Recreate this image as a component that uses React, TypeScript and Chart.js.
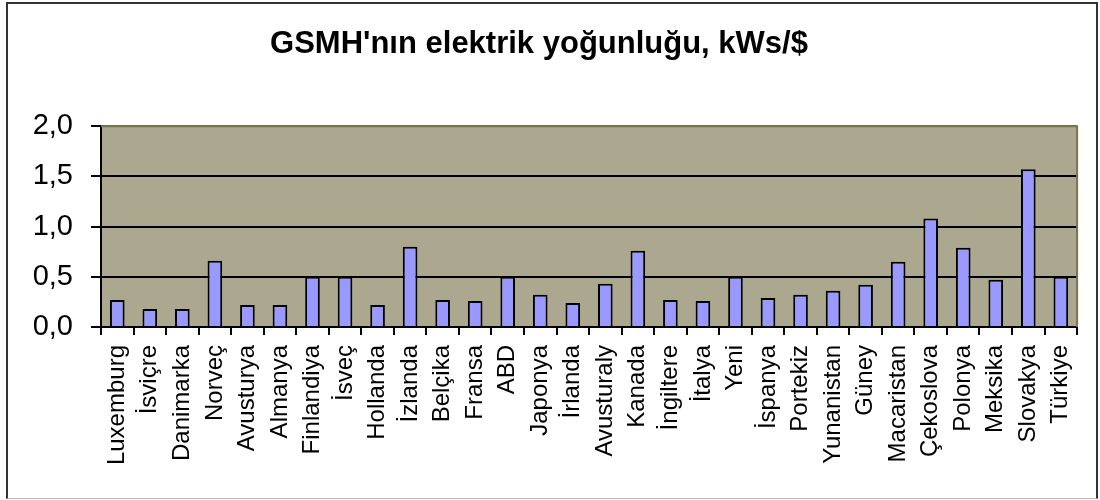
import React, { useEffect, useRef } from 'react';
import { Chart, registerables } from 'chart.js';

Chart.register(...registerables);

const chartTitle = "GSMH'nın elektrik yoğunluğu, kWs/$";

const countries = [
  'Luxemburg', 'İsviçre', 'Danimarka', 'Norveç', 'Avusturya', 'Almanya',
  'Finlandiya', 'İsveç', 'Hollanda', 'İzlanda', 'Belçika', 'Fransa', 'ABD',
  'Japonya', 'İrlanda', 'Avusturaly', 'Kanada', 'İngiltere', 'İtalya', 'Yeni',
  'İspanya', 'Portekiz', 'Yunanistan', 'Güney', 'Macaristan', 'Çekoslova',
  'Polonya', 'Meksika', 'Slovakya', 'Türkiye',
];

const intensity = [
  0.27, 0.18, 0.18, 0.66, 0.22, 0.22,
  0.5, 0.5, 0.22, 0.8, 0.27, 0.26, 0.5,
  0.32, 0.24, 0.43, 0.76, 0.27, 0.26, 0.5,
  0.29, 0.32, 0.36, 0.42, 0.65, 1.08,
  0.79, 0.47, 1.57, 0.5,
];

const yTickLabels = ['0,0', '0,5', '1,0', '1,5', '2,0'];

const FONT = '"Liberation Sans", Arial, sans-serif';
const PLOT_BG = 'rgb(171,168,143)';
const PLOT_EDGE = 'rgb(118,118,80)';

const plotBackground = {
  id: 'plotBackground',
  beforeDraw(chart: any) {
    const { ctx, chartArea } = chart;
    if (!chartArea) return;
    ctx.save();
    ctx.fillStyle = PLOT_BG;
    ctx.fillRect(chartArea.left, chartArea.top, chartArea.right - chartArea.left, chartArea.bottom - chartArea.top);
    ctx.restore();
  },
  beforeDatasetsDraw(chart: any) {
    const { ctx, chartArea } = chart;
    ctx.save();
    ctx.strokeStyle = PLOT_EDGE;
    ctx.lineWidth = 2;
    ctx.beginPath();
    ctx.moveTo(chartArea.left, chartArea.top);
    ctx.lineTo(chartArea.right, chartArea.top);
    ctx.lineTo(chartArea.right, chartArea.bottom);
    ctx.stroke();
    ctx.restore();
  },
};

export default function App() {
  const canvasRef = useRef<HTMLCanvasElement | null>(null);

  useEffect(() => {
    if (!canvasRef.current) return;
    const chart = new Chart(canvasRef.current, {
      type: 'bar',
      data: {
        labels: countries,
        datasets: [
          {
            data: intensity,
            backgroundColor: '#9999FF',
            borderColor: '#000000',
            borderWidth: 2,
            barPercentage: 0.45,
            categoryPercentage: 1,
          },
        ],
      },
      options: {
        responsive: false,
        maintainAspectRatio: false,
        animation: false,
        layout: { padding: { left: 0, right: 22, top: 0, bottom: 0 } },
        plugins: {
          legend: { display: false },
          tooltip: { enabled: false },
          title: {
            display: true,
            text: chartTitle,
            color: '#000',
            font: { family: FONT, size: 31, weight: 'bold', lineHeight: 1.2 },
            padding: { top: 26, bottom: 63 },
          },
        },
        scales: {
          x: {
            grid: {
              display: true,
              drawOnChartArea: false,
              drawTicks: true,
              tickLength: 8,
              color: '#000',
              lineWidth: 2,
              offset: true,
            },
            border: { display: true, color: '#000', width: 2 },
            ticks: {
              autoSkip: false,
              maxRotation: 90,
              minRotation: 90,
              color: '#000',
              padding: 10,
              font: { family: FONT, size: 24 },
            },
            afterFit(scale: any) {
              scale.height = 173;
            },
          },
          y: {
            min: 0,
            max: 2,
            ticks: {
              stepSize: 0.5,
              color: '#000',
              padding: 18,
              font: { family: FONT, size: 29 },
              callback: (_v: any, i: number) => yTickLabels[i],
            },
            grid: {
              color: (ctx: any) => (ctx.tick && ctx.tick.value === 2 ? PLOT_EDGE : '#000'),
              lineWidth: 2,
              tickLength: 10,
              tickColor: '#000',
              drawTicks: true,
            },
            border: { display: true, color: '#000', width: 2 },
            afterFit(scale: any) {
              scale.width = 101;
            },
          },
        },
      },
      plugins: [plotBackground],
    } as any);
    return () => chart.destroy();
  }, []);

  return (
    <div style={{ position: 'absolute', left: 0, top: 0, width: 1100, height: 500, background: '#fff' }}>
      <canvas ref={canvasRef} width={1100} height={500} style={{ display: 'block' }} />
      <div
        style={{
          position: 'absolute',
          left: 6,
          top: 2,
          width: 1092,
          height: 497,
          boxSizing: 'border-box',
          borderTop: '2px solid #333',
          borderLeft: '2px solid #333',
          borderRight: '2px solid #333',
          borderBottom: '1px solid #bbb',
          pointerEvents: 'none',
        }}
      />
    </div>
  );
}
